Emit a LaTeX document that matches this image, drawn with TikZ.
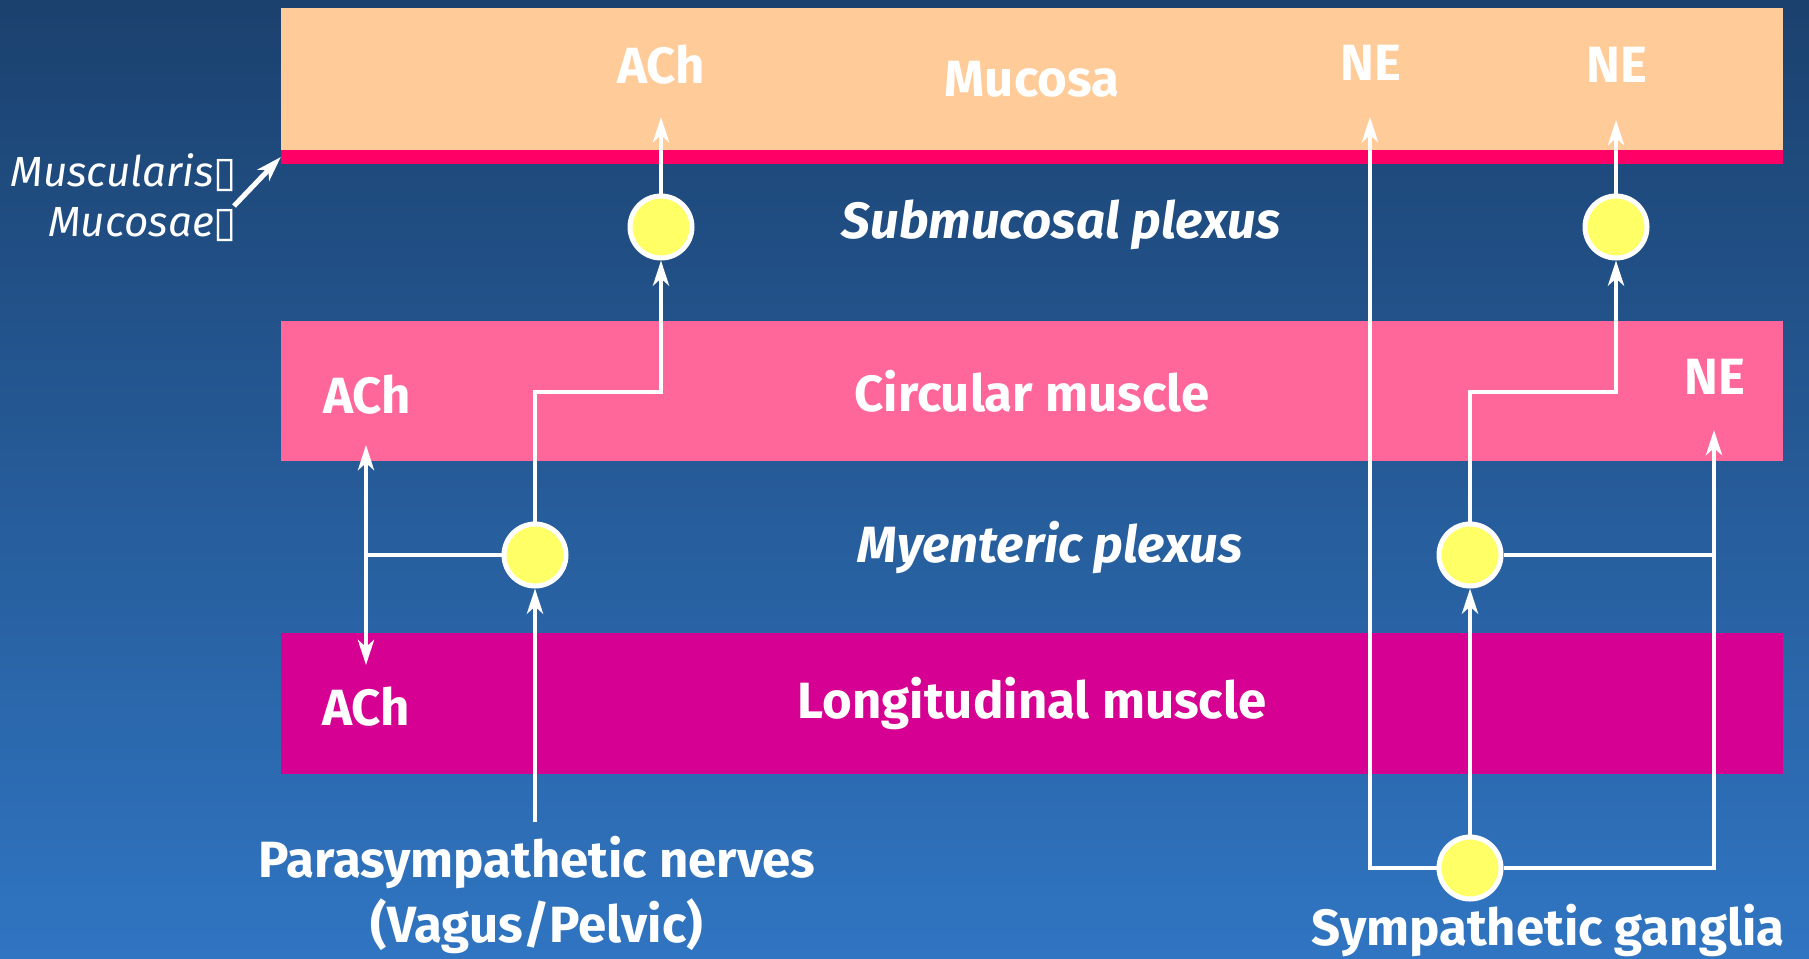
\documentclass[tikz,border=0pt]{standalone}
\usepackage{fontspec}
\setmainfont{Fira Sans}
\newfontfamily\symfont{DejaVu Sans}
\usetikzlibrary{arrows.meta}
\definecolor{bgtop}{RGB}{27,65,110}
\definecolor{bgbot}{RGB}{48,117,194}
\definecolor{mucosafill}{RGB}{255,204,153}
\definecolor{mmfill}{RGB}{255,0,102}
\definecolor{circfill}{RGB}{255,102,153}
\definecolor{longfill}{RGB}{214,0,147}
\definecolor{neurofill}{RGB}{255,255,102}
\newcommand{\gapbox}{{\symfont\mdseries\upshape ▯}}
\begin{document}
\begin{tikzpicture}[x=0.02cm,y=-0.02cm,>={Stealth[length=0.5cm,width=0.32cm,inset=0.14cm]},
every node/.style={text=white,font=\fontsize{29}{37}\selectfont\bfseries},
band/.style={inner sep=0pt,minimum width=30.04cm},
neuron/.style={circle,draw=white,line width=0.1cm,fill=neurofill,minimum size=1.24cm,inner sep=0pt},
plexus/.style={font=\fontsize{29}{37}\selectfont\bfseries\itshape},
nerve/.style={draw=white,line width=0.09cm}]
\useasboundingbox (0,0) rectangle (1809,958);
\shade[top color=bgtop,bottom color=bgbot] (0,0) rectangle (1809,958);
% layers of the wall
\node[band,fill=mucosafill,minimum height=2.84cm] (muc) at (1032,79) {Mucosa};
\node[band,fill=mmfill,minimum height=0.28cm] (mm) at (1032,157) {};
\node[band,fill=circfill,minimum height=2.8cm] (circ) at (1032,391) {Circular muscle};
\node[band,fill=longfill,minimum height=2.82cm] (long) at (1032,703.5) {Longitudinal muscle};
% transmitters and labels
\node (achm) at (661,65) {ACh};
\node (ne1) at (1371,63) {NE};
\node (ne2) at (1617,65) {NE};
\node[plexus] (smp) at (1061,225) {Submucosal plexus};
\node (achc) at (367,395) {ACh};
\node (nec) at (1715,377) {NE};
\node[plexus] (myp) at (1050,548) {Myenteric plexus};
\node (achl) at (366,707) {ACh};
\node[align=center] (para) at (537,895) {Parasympathetic nerves\\(Vagus/Pelvic)};
\node (symg) at (1548,930) {Sympathetic ganglia};
\node[font=\fontsize{24}{28.5}\selectfont\itshape,align=right,anchor=east,inner sep=2pt] (mmlbl) at (241,198) {Muscularis\gapbox\\Mucosae\gapbox};
% neurons
\node[neuron] (sm1) at (661,227) {};
\node[neuron] (sm2) at (1616,227) {};
\node[neuron] (my1) at (535,555) {};
\node[neuron] (my2) at (1470,555) {};
\node[neuron] (sg) at (1470,868) {};
% free ends
\coordinate (tipAm) at (661,117);
\coordinate (tipN1) at (1370,117);
\coordinate (tipN2) at (1616,120);
\coordinate (tipAc) at (366,445);
\coordinate (tipAl) at (366,665);
\coordinate (tipNc) at (1714,430);
\coordinate (bendL) at (661,392);
\coordinate (bendR) at (1616,392);
\coordinate (paraTop) at (535,822);
\coordinate (mmTail) at (234,206);
% parasympathetic side
\draw[nerve,->] (sm1) -- (tipAm);
\draw[nerve,->] (my1.north) |- (bendL) -- (sm1);
\draw[nerve] (my1) -- (my1 -| tipAc);
\draw[nerve,<->] (tipAc) -- (tipAl);
\draw[nerve,->] (paraTop) -- (my1);
% sympathetic side
\draw[nerve,->] (sm2) -- (tipN2);
\draw[nerve,->] (my2.north) |- (bendR) -- (sm2);
\draw[nerve] (my2) -- (my2 -| tipNc);
\draw[nerve,->] (sg) -- (my2);
\draw[nerve,->] (sg.west) -| (tipN1);
\draw[nerve,->] (sg.east) -| (tipNc);
\draw[nerve,->,line width=0.1cm] (mmTail) -- (mm.west);
\end{tikzpicture}
\end{document}
